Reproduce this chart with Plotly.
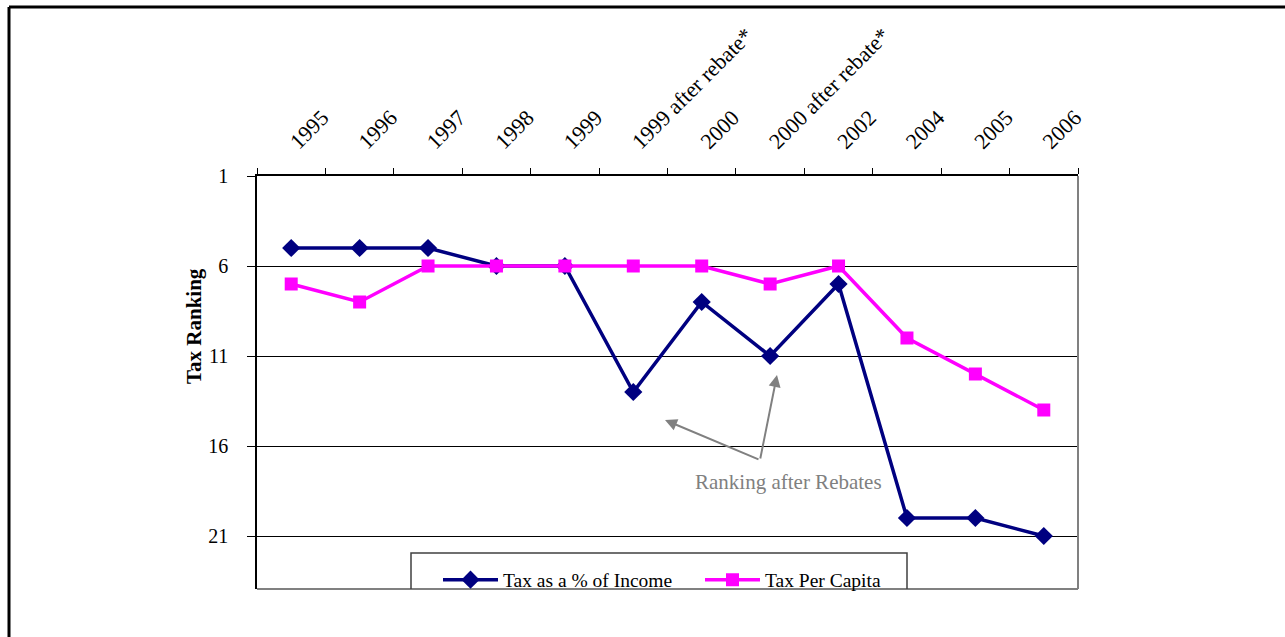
import plotly.graph_objects as go

categories = ["1995", "1996", "1997", "1998", "1999", "1999 after rebate*", "2000",
              "2000 after rebate*", "2002", "2004", "2005", "2006"]
tax_pct_income = [5, 5, 5, 6, 6, 13, 8, 11, 7, 20, 20, 21]
tax_per_capita = [7, 8, 6, 6, 6, 6, 6, 7, 6, 10, 12, 14]
y_ticks = [1, 6, 11, 16, 21]

FONT = "Liberation Serif, Times New Roman, serif"

# plot area geometry (pixels)
L, R, T, B = 257, 1078, 176, 589
W, H = R - L, B - T
def px(x):
    return (x - L) / W
def py(y):
    return (B - y) / H

fig = go.Figure()
fig.add_trace(go.Scatter(
    x=categories, y=tax_pct_income, name="Tax as a % of Income",
    mode="lines+markers",
    line=dict(color="#000080", width=3.5),
    marker=dict(symbol="diamond", size=14, color="#000080"),
))
fig.add_trace(go.Scatter(
    x=categories, y=tax_per_capita, name="Tax Per Capita",
    mode="lines+markers",
    line=dict(color="#FF00FF", width=3.5),
    marker=dict(symbol="square", size=13, color="#FF00FF"),
))

fig.update_layout(
    width=1285, height=637,
    margin=dict(l=L, r=1285 - R, t=T, b=637 - B),
    paper_bgcolor="white", plot_bgcolor="white",
    font=dict(family=FONT, size=20, color="black"),
    showlegend=True,
    legend=dict(orientation="h", x=px(438), xanchor="left", y=py(580), yanchor="middle",
                font=dict(family=FONT, size=19.5, color="black"),
                bgcolor="rgba(0,0,0,0)", itemwidth=55,
                entrywidth=192, entrywidthmode="pixels"),
    xaxis=dict(side="top", type="category", tickangle=-45,
               showline=True, linecolor="black", linewidth=1.5,
               ticks="outside", tickson="boundaries", ticklen=6, tickcolor="black",
               showgrid=False, ticklabelstandoff=12,
               tickfont=dict(family=FONT, size=22, color="black"),
               range=[-0.5, len(categories) - 0.5]),
    yaxis=dict(range=[1 + (B - T) / 18.0, 1], tickvals=y_ticks,
               showline=True, linecolor="black", linewidth=1.5,
               ticks="outside", ticklen=8, tickcolor="black",
               showgrid=True, gridcolor="black", gridwidth=1, zeroline=False,
               ticklabelstandoff=15,
               tickfont=dict(family=FONT, size=20, color="black")),
)

shapes = [
    # right & bottom plot borders (gray)
    dict(type="line", xref="paper", yref="paper", x0=1, x1=1, y0=0, y1=1,
         line=dict(color="#808080", width=2)),
    dict(type="line", xref="paper", yref="paper", x0=0, x1=1, y0=0, y1=0,
         line=dict(color="#808080", width=2)),
    # legend frame (cut off by bottom)
    dict(type="path", xref="paper", yref="paper",
         path=f"M {px(411)} 0 L {px(411)} {py(553)} L {px(907)} {py(553)} L {px(907)} 0",
         line=dict(color="#404040", width=1.5)),
    # outer frame (left & top)
    dict(type="line", xref="paper", yref="paper", x0=px(9), x1=px(1290), y0=py(7), y1=py(7),
         line=dict(color="black", width=3)),
    dict(type="line", xref="paper", yref="paper", x0=px(9), x1=px(9), y0=py(7), y1=py(645),
         line=dict(color="black", width=3)),
]
fig.update_layout(shapes=shapes)

def cx(p):
    return (p - (L + W / 24)) / (W / 12)
def cy(p):
    return (p - T) / 18.0 + 1

fig.add_annotation(x=cx(665), y=cy(420), ax=95, ay=40, text="", showarrow=True,
                   arrowhead=2, arrowsize=1.2, arrowwidth=2, arrowcolor="#808080")
fig.add_annotation(x=cx(777), y=cy(375), ax=-17, ay=85, text="", showarrow=True,
                   arrowhead=2, arrowsize=1.2, arrowwidth=2, arrowcolor="#808080")
fig.add_annotation(x=cx(788), y=cy(482), text="Ranking after Rebates", showarrow=False,
                   xanchor="center", yanchor="middle",
                   font=dict(family=FONT, size=21, color="#808080"))
fig.add_annotation(xref="paper", yref="paper", x=px(194), y=py(326), text="<b>Tax Ranking</b>",
                   textangle=-90, showarrow=False, xanchor="center", yanchor="middle",
                   font=dict(family=FONT, size=21, color="black"))

fig.write_html("out.html", config={"displayModeBar": False},
               post_script="document.body.style.margin='0';document.body.style.overflow='hidden';")
